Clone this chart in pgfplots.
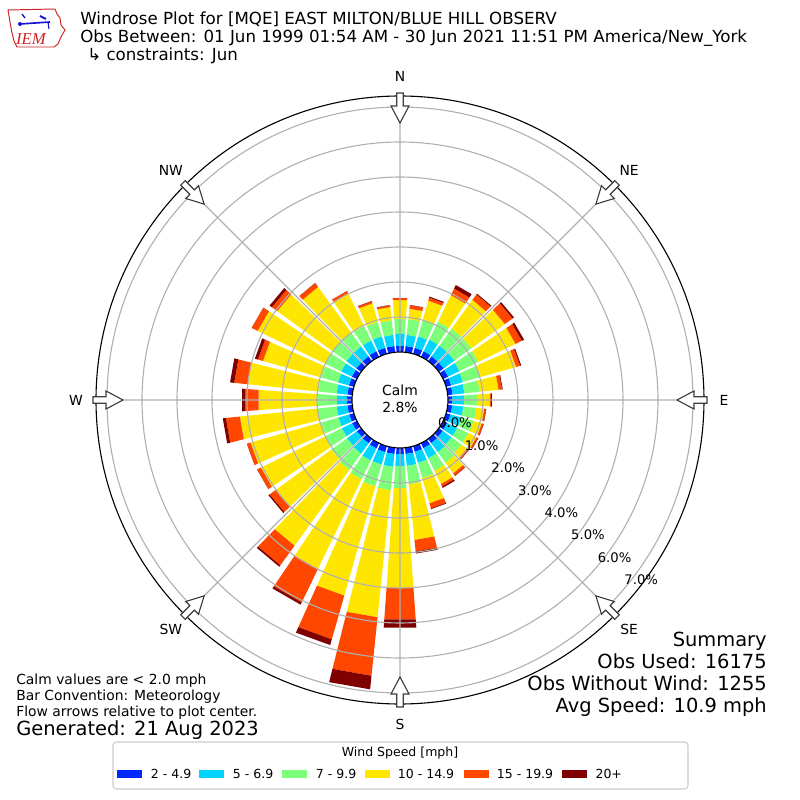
\documentclass[border=0pt]{standalone}
\usepackage{fontspec}
\setmainfont{DejaVu Sans}
\newfontfamily\iemserif{Liberation Serif}
\usepackage{pgfplots}
\usepackage{pgfplotstable}
\pgfplotsset{compat=1.18}
\usepgfplotslibrary{polar}

\definecolor{cA}{RGB}{0,40,255}
\definecolor{cB}{RGB}{0,212,255}
\definecolor{cC}{RGB}{124,255,121}
\definecolor{cD}{RGB}{255,230,0}
\definecolor{cE}{RGB}{255,71,0}
\definecolor{cF}{RGB}{127,0,0}
\definecolor{gridgray}{RGB}{176,176,176}
\definecolor{iemred}{RGB}{205,35,35}
\definecolor{iemblue}{RGB}{20,20,210}

% cumulative percentages per direction (2-4.9, 5-6.9, 7-9.9, 10-14.9, 15-19.9, 20+)
\pgfplotstableread{
d c1 c2 c3 c4 c5 c6
0 0.18 0.52 0.95 1.49 1.55 1.55
10 0.18 0.50 0.95 1.25 1.35 1.36
20 0.18 0.52 1.02 1.58 1.67 1.70
30 0.18 0.55 1.12 1.96 2.17 2.28
40 0.17 0.55 1.15 2.16 2.35 2.38
50 0.17 0.55 1.15 2.33 2.60 2.65
60 0.16 0.52 1.12 2.30 2.50 2.57
70 0.15 0.50 1.02 2.08 2.20 2.23
80 0.14 0.48 0.92 1.46 1.56 1.58
90 0.13 0.46 0.85 1.20 1.24 1.26
100 0.13 0.45 0.82 1.05 1.10 1.11
110 0.13 0.45 0.82 1.06 1.11 1.12
120 0.13 0.45 0.80 1.06 1.11 1.12
130 0.14 0.45 0.80 0.99 1.05 1.06
140 0.15 0.47 0.85 1.22 1.30 1.31
150 0.16 0.48 0.88 1.30 1.38 1.42
160 0.17 0.50 0.95 1.70 1.85 1.87
170 0.18 0.52 1.05 2.65 2.98 3.04
180 0.18 0.52 1.15 4.01 4.91 5.15
190 0.18 0.55 1.22 4.87 6.55 6.94
200 0.18 0.55 1.20 4.44 5.74 5.91
210 0.17 0.55 1.15 4.00 5.06 5.13
220 0.16 0.52 1.10 3.77 4.46 4.51
230 0.15 0.50 1.05 3.00 3.23 3.27
240 0.15 0.48 1.00 3.05 3.17 3.17
250 0.14 0.46 0.98 3.07 3.18 3.18
260 0.14 0.45 1.00 3.23 3.63 3.72
270 0.14 0.44 1.00 2.68 3.07 3.15
280 0.14 0.45 0.98 3.00 3.39 3.51
290 0.15 0.47 0.98 2.70 2.85 2.94
300 0.16 0.50 1.00 3.15 3.34 3.34
310 0.17 0.52 1.02 2.96 3.15 3.23
320 0.17 0.52 1.00 2.62 2.76 2.76
330 0.18 0.52 0.98 2.02 2.09 2.09
340 0.18 0.52 0.95 1.50 1.56 1.57
350 0.18 0.50 0.92 1.30 1.35 1.36
}\wind

\begin{document}
\begin{tikzpicture}
\useasboundingbox (0pt,0pt) rectangle (576pt,576pt);
\begin{polaraxis}[
  at={(288pt,288pt)}, anchor=origin,
  scale only axis, width=437.76pt, height=437.76pt,
  xmin=0, xmax=360, ymin=0, ymax=8.6857,
  xtick={0,45,...,315},
  ytick={2.3714,3.3714,4.3714,5.3714,6.3714,7.3714,8.3714},
  xticklabels={}, yticklabels={},
  major tick length=0pt,
  grid=major,
  major grid style={draw=gridgray, line width=0.8pt},
  axis on top,
  axis line style={black, line width=0.8pt},
  y axis line style={draw=none},
]
\foreach \i in {0,...,35}{
  \pgfplotstablegetelem{\i}{d}\of\wind
  \pgfmathsetmacro\tl{90-\pgfplotsretval-4.1}
  \pgfmathsetmacro\tr{90-\pgfplotsretval+4.1}
  \pgfplotstablegetelem{\i}{c1}\of\wind \pgfmathsetmacro\ra{\pgfplotsretval+1.3714}
  \pgfplotstablegetelem{\i}{c2}\of\wind \pgfmathsetmacro\rb{\pgfplotsretval+1.3714}
  \pgfplotstablegetelem{\i}{c3}\of\wind \pgfmathsetmacro\rc{\pgfplotsretval+1.3714}
  \pgfplotstablegetelem{\i}{c4}\of\wind \pgfmathsetmacro\rd{\pgfplotsretval+1.3714}
  \pgfplotstablegetelem{\i}{c5}\of\wind \pgfmathsetmacro\re{\pgfplotsretval+1.3714}
  \pgfplotstablegetelem{\i}{c6}\of\wind \pgfmathsetmacro\rf{\pgfplotsretval+1.3714}
  \edef\temp{%
    \noexpand\addplot[fill=cA,draw=none] coordinates {(\tl,1.3714) (\tl,\ra) (\tr,\ra) (\tr,1.3714)};
    \noexpand\addplot[fill=cB,draw=none] coordinates {(\tl,\ra) (\tl,\rb) (\tr,\rb) (\tr,\ra)};
    \noexpand\addplot[fill=cC,draw=none] coordinates {(\tl,\rb) (\tl,\rc) (\tr,\rc) (\tr,\rb)};
    \noexpand\addplot[fill=cD,draw=none] coordinates {(\tl,\rc) (\tl,\rd) (\tr,\rd) (\tr,\rc)};
    \noexpand\addplot[fill=cE,draw=none] coordinates {(\tl,\rd) (\tl,\re) (\tr,\re) (\tr,\rd)};
    \noexpand\addplot[fill=cF,draw=none] coordinates {(\tl,\re) (\tl,\rf) (\tr,\rf) (\tr,\re)};
  }
  \temp
}
\end{polaraxis}

% centred decorations (units: pixels of the 800x800 reference)
\begin{scope}[shift={(288pt,288pt)}, x=0.72pt, y=0.72pt]
  \draw[black, line width=0.8pt, fill=white] (0,0) circle[radius=48];
  \foreach \a in {0,45,...,315}{
    \begin{scope}[rotate=90-\a]
      \draw[draw={rgb,255:red,60;green,60;blue,60}, line width=0.8pt, fill=white, line join=miter]
        (307,-3.2) -- (294,-3.2) -- (294,-9) -- (277,0) -- (294,9) -- (294,3.2) -- (307,3.2) -- cycle;
    \end{scope}
  }
  \foreach \a/\lab in {0/N,45/NE,90/E,135/SE,180/S,225/SW,270/W,315/NW}{
    \node[font=\fontsize{10}{12}\selectfont, inner sep=0pt] at ({90-\a}:324) {\lab};
  }
\end{scope}

% texts (units: pixels, y downwards)
\begin{scope}[shift={(0pt,576pt)}, x=0.72pt, y=-0.72pt]
  \node[font=\fontsize{10}{12}\selectfont, inner sep=0pt] at (400,390) {Calm};
  \node[font=\fontsize{10}{12}\selectfont, inner sep=0pt] at (400,407) {2.8\%};
  \foreach \k/\xx/\yy in {0/455/423,1/481.6/445.4,2/508.2/467.8,3/534.8/490.2,4/561.4/512.6,5/588/535,6/614.6/557.4,7/641.2/579.8}{
    \node[font=\fontsize{9.5}{11}\selectfont, inner sep=0pt] at (\xx,\yy) {\k.0\%};
  }
  % title
  \node[anchor=base west, inner sep=0pt, font=\fontsize{12}{14}\selectfont] at (80,25) {Windrose Plot for [MQE] EAST MILTON/BLUE HILL OBSERV};
  \node[anchor=base west, inner sep=0pt, font=\fontsize{12}{14}\selectfont] at (80,43) {Obs Between: 01 Jun 1999 01:54 AM - 30 Jun 2021 11:51 PM America/New\_York};
  \node[anchor=base west, inner sep=0pt, font=\fontsize{12}{14}\selectfont] at (87,61) {↳ constraints: Jun};
  % summary
  \foreach \yy/\txt in {646/Summary,668/Obs Used: 16175,690/Obs Without Wind: 1255,712/Avg Speed: 10.9 mph}{
    \node[anchor=base east, inner sep=0pt, font=\fontsize{14}{16}\selectfont] at (767,\yy) {\txt};
  }
  % notes
  \node[anchor=base west, inner sep=0pt, font=\fontsize{10}{12}\selectfont] at (16,684) {Calm values are < 2.0 mph};
  \node[anchor=base west, inner sep=0pt, font=\fontsize{10}{12}\selectfont] at (16,700) {Bar Convention: Meteorology};
  \node[anchor=base west, inner sep=0pt, font=\fontsize{10}{12}\selectfont] at (16,716) {Flow arrows relative to plot center.};
  \node[anchor=base west, inner sep=0pt, font=\fontsize{14}{16}\selectfont] at (16,736) {Generated: 21 Aug 2023};
  % legend
  \draw[draw={rgb,255:red,204;green,204;blue,204}, line width=0.8pt, fill=white, rounded corners=2.5pt] (113,742) rectangle (688,789);
  \node[font=\fontsize{9}{11}\selectfont, inner sep=0pt] at (400,753) {Wind Speed [mph]};
  \foreach \px/\lx/\col/\txt in {117/150.7/cA/2 - 4.9,199/232.7/cB/5 - 6.9,282/315.7/cC/7 - 9.9,364.7/397.7/cD/10 - 14.9,463.7/496.7/cE/15 - 19.9,562/595.3/cF/20+}{
    \fill[\col] (\px,769.5) rectangle ++(25,8);
    \node[anchor=west, inner sep=0pt, font=\fontsize{9}{11}\selectfont] at (\lx,773.5) {\txt};
  }
  % IEM logo
  \draw[iemred, line width=0.7pt] (8,10) -- (55,9) -- (57,14) -- (60,18) -- (61,25) -- (65,30) -- (61,37) -- (58,44) -- (54,47) -- (17,47) -- (14,41) -- (12,33) -- (10,22) -- cycle;
  \draw[iemblue, line width=1.2pt] (20,24) -- (50,22);
  \fill[iemblue] (20,24) circle[radius=2];
  \draw[iemblue, line width=1pt] (22,14) -- (25,18);
  \draw[iemblue, line width=1.4pt] (40,16) -- (46,19);
  \draw[iemblue, line width=0.8pt] (48,22) -- (49,29);
  \node[font=\iemserif\itshape\fontsize{12}{12}\selectfont, text=iemred, inner sep=0pt] at (31,39) {IEM};
\end{scope}
\end{tikzpicture}
\end{document}
